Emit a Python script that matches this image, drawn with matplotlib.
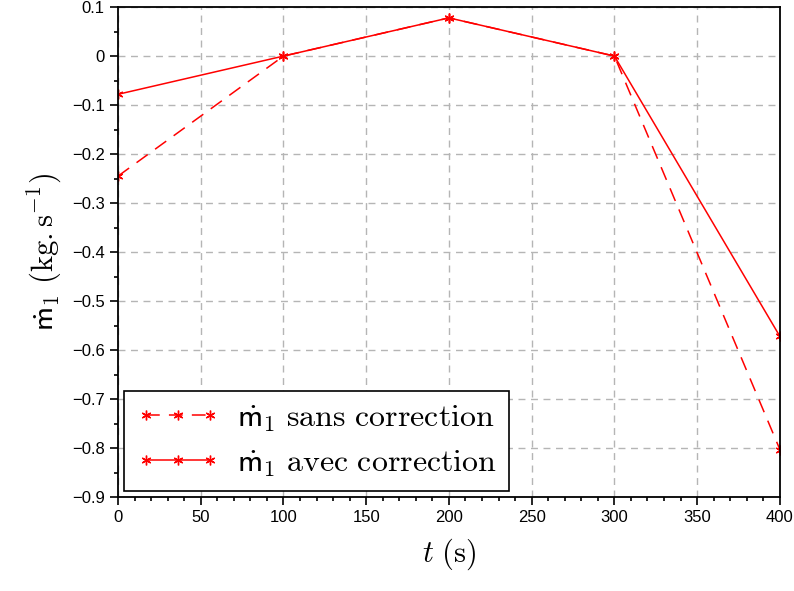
import numpy as np
import matplotlib
matplotlib.use("Agg")
import matplotlib.pyplot as plt
from matplotlib.ticker import MultipleLocator, FuncFormatter

# ==========================================
# DATA
# ==========================================

t = [0, 100, 200, 300, 400]
m_sans = [-0.245, 0.0, 0.078, 0.0, -0.803]
m_avec = [-0.078, 0.0, 0.078, 0.0, -0.572]

label_sans = r"$\dot{\mathsf{m}}_1\ \mathrm{sans\ correction}$"
label_avec = r"$\dot{\mathsf{m}}_1\ \mathrm{avec\ correction}$"

# ==========================================
# STYLE
# ==========================================

plt.rcParams["font.family"] = ["Liberation Sans", "DejaVu Sans"]
plt.rcParams["mathtext.fontset"] = "cm"

fig = plt.figure(figsize=(7.94, 5.91), dpi=100)
ax = fig.add_axes([0.1486, 0.159, 0.8336, 0.829])

asterisk = (6, 2, 0)

ax.plot(t, m_sans, color="red", linestyle=(0, (9, 6)), linewidth=1.1,
        marker=asterisk, markersize=7, label=label_sans)
ax.plot(t, m_avec, color="red", linestyle="-", linewidth=1.1,
        marker=asterisk, markersize=7, label=label_avec)

ax.set_xlim(0, 400)
ax.set_ylim(-0.9, 0.1)

ax.xaxis.set_major_locator(MultipleLocator(50))
ax.xaxis.set_minor_locator(MultipleLocator(10))
ax.yaxis.set_major_locator(MultipleLocator(0.1))
ax.yaxis.set_minor_locator(MultipleLocator(0.05))


def yfmt(v, pos):
    if abs(v) < 1e-9:
        return "0"
    return ("%.1f" % v).replace("-", "\u2212")


ax.yaxis.set_major_formatter(FuncFormatter(yfmt))

ax.tick_params(which="both", direction="out", labelsize=12, width=1.2)
ax.tick_params(which="major", length=6)
ax.tick_params(which="minor", length=3)

ax.grid(True, which="major", color="#b5b5b5", linestyle=(0, (5, 4)), linewidth=1)
ax.set_axisbelow(True)

for s in ax.spines.values():
    s.set_linewidth(1.3)

ax.set_xlabel(r"$t\ \mathrm{(s)}$", fontsize=22, labelpad=8)
ax.set_ylabel(r"$\dot{\mathsf{m}}_1\ \mathrm{(kg.s^{-1})}$", fontsize=22, labelpad=6)

leg = ax.legend(loc="lower left", fontsize=23, frameon=True, fancybox=False,
                edgecolor="black", framealpha=1, borderpad=0.38,
                numpoints=3, handlelength=2.6, handletextpad=0.55,
                labelspacing=0.45, borderaxespad=0.2)
leg.get_frame().set_linewidth(1.2)

plt.savefig("out.png", dpi=100)
plt.close()
